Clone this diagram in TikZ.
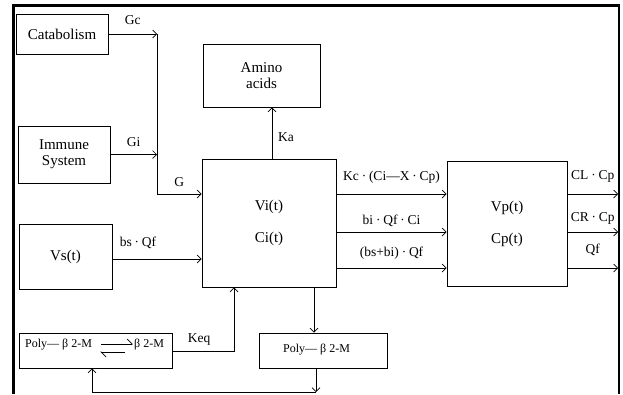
\documentclass[tikz,border=0pt]{standalone}
\usepackage{fontspec}
\setmainfont{Liberation Serif}
\usetikzlibrary{arrows.meta}
\begin{document}
\begin{tikzpicture}[x=1pt,y={(0pt,-1pt)},
  box/.style={draw, line width=0.8pt, inner sep=0pt, font=\fontsize{15}{16}\selectfont, align=center},
  lbl/.style={inner sep=0pt, font=\fontsize{13.5}{16}\selectfont},
  ptxt/.style={inner sep=0pt, font=\fontsize{12}{14}\selectfont, anchor=west},
  arr/.style={draw, line width=0.7pt, -{Straight Barb[length=4pt,width=8pt,line width=0.7pt]}},
  harp/.style={draw, line width=0.7pt, -{Straight Barb[left,length=5pt,width=10pt,line width=0.7pt]}}
]
\useasboundingbox (0,0) rectangle (623,394);
\draw[line width=2.5pt] (13.5,394) -- (13.5,5.5) -- (619,5.5) -- (619,394);

\node[box, minimum width=92pt, minimum height=40pt] (cat) at (62,34) {Catabolism};
\node[box, minimum width=92pt, minimum height=57pt] (imm) at (64,154.5) {Immune\\System};
\node[box, minimum width=117pt, minimum height=63pt] (amino) at (261.5,75.5) {Amino\\acids};
\node[box, minimum width=134pt, minimum height=128pt] (vi) at (269,223) {Vi(t)\\[16pt]Ci(t)};
\node[box, minimum width=120pt, minimum height=125pt] (vp) at (507,223.5) {Vp(t)\\[16pt]Cp(t)};
\node[box, minimum width=93pt, minimum height=65pt] (vs) at (65.5,256.5) {Vs(t)};
\node[box, minimum width=153pt, minimum height=35pt] (polyL) at (95.5,350.5) {};
\node[box, minimum width=128pt, minimum height=35pt] (polyR) at (323,350.5) {};
\node[ptxt] (pl1) at (25,345) {Poly— β 2-M};
\node[ptxt] (pl2) at (134,345) {β 2-M};
\node[ptxt] (pr) at (283,350) {Poly— β 2-M};

\draw[harp] ([xshift=9pt,yshift=1pt]pl1.east) -- ([xshift=-1pt,yshift=1pt]pl2.west);
\draw[harp] ([xshift=-9pt,yshift=-7pt]pl2.west) -- ([xshift=8pt,yshift=-7pt]pl1.east);

\coordinate (g) at (157,194);
\draw[arr] (cat.east) -- (cat.east -| g) node[lbl, midway, yshift=14pt] {Gc};
\draw[arr] (imm.east) -- (imm.east -| g) node[lbl, midway, yshift=12pt] {Gi};
\draw[arr] (cat.east -| g) -- (g) -- (g -| vi.west) node[lbl, midway, yshift=12pt] {G};

\coordinate (ka) at (272,0);
\draw[arr] (vi.north -| ka) -- (amino.south -| ka) node[lbl, midway, xshift=14pt, yshift=-4pt] {Ka};

\coordinate (ya) at (0,194);
\coordinate (yb) at (0,232);
\coordinate (yc) at (0,268);
\coordinate (rx) at (618,0);
\draw[arr] (vi.east |- ya) -- (vp.west |- ya) node[lbl, midway, yshift=17pt] {Kc ∙ (Ci—X ∙ Cp)};
\draw[arr] (vi.east |- yb) -- (vp.west |- yb) node[lbl, midway, yshift=11pt] {bi ∙ Qf ∙ Ci};
\draw[arr] (vi.east |- yc) -- (vp.west |- yc) node[lbl, midway, yshift=15pt] {(bs+bi) ∙ Qf};
\draw[arr] (vp.east |- ya) -- (rx |- ya) node[lbl, midway, yshift=18pt] {CL ∙ Cp};
\draw[arr] (vp.east |- yb) -- (rx |- yb) node[lbl, midway, yshift=14pt] {CR ∙ Cp};
\draw[arr] (vp.east |- yc) -- (rx |- yc) node[lbl, midway, yshift=18pt] {Qf};

\coordinate (ys) at (0,259);
\draw[arr] (vs.east |- ys) -- (vi.west |- ys) node[lbl, midway, xshift=-19pt, yshift=16pt] {bs ∙ Qf};

\coordinate (kq) at (234,351);
\draw[arr] (polyL.east |- kq) -- (kq) node[lbl, midway, xshift=-4pt, yshift=11pt] {Keq} -- (vi.south -| kq);

\coordinate (dx) at (314,0);
\draw[arr] (vi.south -| dx) -- (polyR.north -| dx);
\coordinate (b1) at (316,392);
\coordinate (b2) at (92,392);
\draw[arr] (polyR.south -| b1) -- (b1);
\draw[arr] (b1) -- (b2) -- (polyL.south -| b2);
\end{tikzpicture}
\end{document}
